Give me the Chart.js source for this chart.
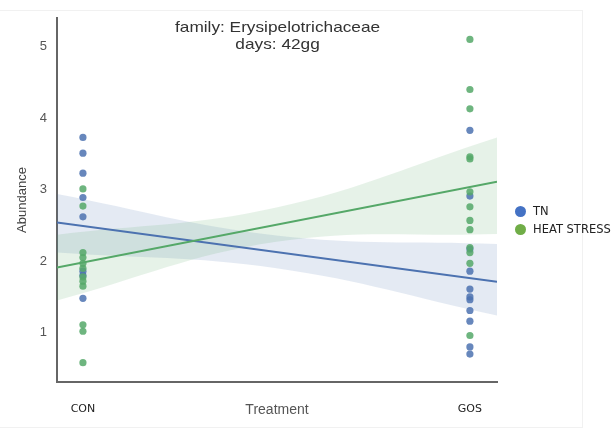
<!DOCTYPE html>
<html>
<head>
<meta charset="utf-8">
<script src="https://cdn.jsdelivr.net/npm/chart.js@4.4.1/dist/chart.umd.min.js"></script>
<style>
  html, body { margin: 0; padding: 0; background: #fff; }
  #wrap { position: relative; width: 611px; height: 432px; overflow: hidden; }
  #chart { position: absolute; left: 0; top: 0; }
  .frame { position: absolute; left: 0; top: 10px; width: 583px; height: 418px;
           border-top: 1px solid #f1f1f1; border-right: 1px solid #f1f1f1; border-bottom: 1px solid #f1f1f1; box-sizing: border-box; }
  .title { position: absolute; left: 0; width: 555px; text-align: center;
           font-family: "Liberation Sans", Arial, sans-serif; font-size: 15px; color: #333;
           line-height: 17px; transform-origin: 277px 0; transform: scaleX(1.15); }
  .legend { position: absolute; left: 515px; top: 203px; font-family: "DejaVu Sans", sans-serif;
            font-size: 11.5px; color: #222; white-space: nowrap; }
  .legend div { height: 17.5px; line-height: 17.5px; position: relative; padding-left: 18px; }
  .legend span.dot { position: absolute; left: 0; top: 3px; width: 11px; height: 11px; border-radius: 50%; }
</style>
</head>
<body>
<div id="wrap">
  <canvas id="chart" width="611" height="432"></canvas>
  <div class="frame"></div>
  <div class="title" style="top:18px">family: Erysipelotrichaceae<br>days: 42gg</div>
  <div class="legend">
    <div><span class="dot" style="background:#4472C4"></span>TN</div>
    <div><span class="dot" style="background:#70AD47"></span>HEAT STRESS</div>
  </div>
</div>
<script>
// Treatment groups on the x axis and abundance ticks on the y axis
const categories = ['CON', 'GOS'];
const yTicks = [1, 2, 3, 4, 5];
const seriesNames = ['TN', 'HEAT STRESS'];

// Abundance per animal, by group
const tnCon = [3.73, 3.51, 3.23, 2.89, 2.62, 1.86, 1.80, 1.48];
const tnGos = [3.83, 2.91, 2.17, 1.86, 1.61, 1.50, 1.46, 1.31, 1.16, 0.80, 0.70];
const hsCon = [3.01, 2.77, 2.12, 2.05, 1.97, 1.90, 1.78, 1.72, 1.65, 1.11, 1.02, 0.58];
const hsGos = [5.10, 4.40, 4.13, 3.46, 3.43, 2.97, 2.76, 2.57, 2.44, 2.19, 2.12, 1.97, 0.96];

// Linear fit ends and confidence band edges
const fitX = [-0.067, 1.07];
const tnFit = [2.54, 1.71];
const hsFit = [1.91, 3.11];
const bandX = [-0.067, 0.5, 1.07];
const tnUpper = [2.94, 2.36, 2.24];
const tnLower = [2.12, 1.90, 1.24];
const hsUpper = [2.37, 2.75, 3.73];
const hsLower = [1.45, 2.27, 2.38];

const xRange = [-0.067, 1.07];
const yRange = [0.31, 5.4];

const BLUE = '#4C72B0';
const GREEN = '#55A868';

const pts = (con, gos) => con.map(y => ({x: 0, y})).concat(gos.map(y => ({x: 1, y})));
const xy = (xs, ys) => xs.map((x, i) => ({x, y: ys[i]}));

const bandDefaults = { type: 'line', pointRadius: 0, borderWidth: 0, tension: 0.4 };

new Chart(document.getElementById('chart'), {
  type: 'scatter',
  data: {
    datasets: [
      { label: seriesNames[1], data: pts(hsCon, hsGos), backgroundColor: 'rgba(85,168,104,0.85)',
        pointRadius: 3.6, borderWidth: 0, order: 0 },
      { label: seriesNames[0], data: pts(tnCon, tnGos), backgroundColor: 'rgba(76,114,176,0.85)',
        pointRadius: 3.6, borderWidth: 0, order: 1 },
      { type: 'line', data: xy(fitX, hsFit), borderColor: GREEN, borderWidth: 2, pointRadius: 0, order: 2 },
      { type: 'line', data: xy(fitX, tnFit), borderColor: BLUE, borderWidth: 2, pointRadius: 0, order: 3 },
      Object.assign({ data: xy(bandX, hsLower), fill: false, order: 4 }, bandDefaults),
      Object.assign({ data: xy(bandX, hsUpper), fill: '-1', backgroundColor: 'rgba(85,168,104,0.15)', order: 4 }, bandDefaults),
      Object.assign({ data: xy(bandX, tnLower), fill: false, order: 5 }, bandDefaults),
      Object.assign({ data: xy(bandX, tnUpper), fill: '-1', backgroundColor: 'rgba(76,114,176,0.15)', order: 5 }, bandDefaults)
    ]
  },
  options: {
    responsive: false,
    animation: false,
    layout: { padding: { top: 18, right: 114, bottom: 0, left: 0 }, autoPadding: false },
    plugins: { legend: { display: false }, tooltip: { enabled: false }, title: { display: false } },
    scales: {
      x: {
        type: 'linear', min: xRange[0], max: xRange[1],
        afterBuildTicks: s => { s.ticks = [0, 1].map(v => ({value: v})); },
        afterFit: s => { s.height = 50; },
        grid: { display: false, drawTicks: false },
        border: { display: true, color: '#666', width: 2 },
        ticks: { padding: 21, color: '#222', font: { family: 'DejaVu Sans', size: 11 },
                 callback: v => categories[v] },
        title: { display: true, text: 'Treatment', color: '#555', padding: { top: 0, bottom: 13 },
                 font: { family: 'Liberation Sans', size: 14 } }
      },
      y: {
        min: yRange[0], max: yRange[1],
        afterBuildTicks: s => { s.ticks = yTicks.map(v => ({value: v})); },
        afterFit: s => { s.width = 57; },
        grid: { display: false, drawTicks: false },
        border: { display: true, color: '#666', width: 2 },
        ticks: { padding: 10, color: '#555', font: { family: 'Liberation Sans', size: 13 } },
        title: { display: true, text: 'Abundance', color: '#444', padding: { top: 15, bottom: 0 },
                 font: { family: 'Liberation Sans', size: 13 } }
      }
    }
  }
});
</script>
</body>
</html>
